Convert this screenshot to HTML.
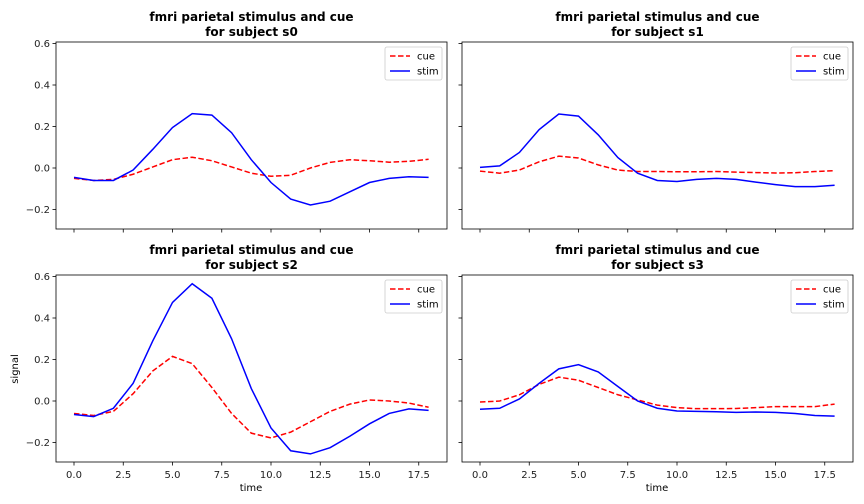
<!DOCTYPE html>
<html><head><meta charset="utf-8"><style>
body{margin:0;background:#fff}
svg{display:block;font-family:"DejaVu Sans","Liberation Sans",sans-serif}
</style></head><body>
<svg id="chart" width="864" height="504" xmlns="http://www.w3.org/2000/svg"></svg>
<script>
const times=[0,1,2,3,4,5,6,7,8,9,10,11,12,13,14,15,16,17,18];
const subjects=["s0","s1","s2","s3"];
const stimS0=[-0.045,-0.06,-0.06,-0.01,0.09,0.195,0.262,0.255,0.17,0.04,-0.07,-0.15,-0.178,-0.16,-0.115,-0.07,-0.05,-0.042,-0.045];
const cueS0=[-0.05,-0.06,-0.055,-0.03,0.005,0.04,0.052,0.035,0.005,-0.025,-0.04,-0.035,0.0,0.027,0.04,0.035,0.028,0.032,0.042];
const stimS1=[0.003,0.01,0.075,0.185,0.26,0.25,0.16,0.05,-0.025,-0.06,-0.065,-0.055,-0.05,-0.055,-0.068,-0.08,-0.09,-0.09,-0.083];
const cueS1=[-0.015,-0.025,-0.01,0.03,0.057,0.048,0.015,-0.01,-0.017,-0.017,-0.018,-0.018,-0.017,-0.02,-0.022,-0.024,-0.023,-0.017,-0.013];
const stimS2=[-0.065,-0.075,-0.035,0.085,0.29,0.475,0.565,0.495,0.30,0.06,-0.13,-0.24,-0.255,-0.225,-0.17,-0.11,-0.06,-0.038,-0.045];
const cueS2=[-0.06,-0.07,-0.05,0.035,0.145,0.215,0.18,0.065,-0.06,-0.155,-0.178,-0.15,-0.1,-0.05,-0.015,0.005,0.0,-0.01,-0.03];
const stimS3=[-0.04,-0.035,0.01,0.085,0.155,0.175,0.14,0.07,0.0,-0.035,-0.048,-0.05,-0.052,-0.055,-0.053,-0.055,-0.06,-0.07,-0.073];
const cueS3=[-0.005,0.0,0.03,0.08,0.115,0.1,0.065,0.03,0.005,-0.02,-0.032,-0.037,-0.037,-0.036,-0.032,-0.027,-0.027,-0.027,-0.015];
const xTicks=[0,2.5,5,7.5,10,12.5,15,17.5];
const xTickLabels=["0.0","2.5","5.0","7.5","10.0","12.5","15.0","17.5"];
const yTicks=[-0.2,0,0.2,0.4,0.6];
const yTickLabels=["\u22120.2","0.0","0.2","0.4","0.6"];
const stims=[stimS0,stimS1,stimS2,stimS3];
const cues=[cueS0,cueS1,cueS2,cueS3];

const NS="http://www.w3.org/2000/svg";
const svg=document.getElementById('chart');
function mk(tag,attrs,parent,text){const e=document.createElementNS(NS,tag);for(const k in attrs)e.setAttribute(k,attrs[k]);if(text!==undefined)e.textContent=text;(parent||svg).appendChild(e);return e;}
const panels=[{x:56,y:42},{x:462,y:42},{x:56,y:275},{x:462,y:275}];
const W=391,H=187;
panels.forEach((p,i)=>{
  const g=mk('g',{});
  
  
  const xs=t=>p.x+18+t*19.7;
  const ys=v=>p.y+126-v*207.5;
  mk('rect',{x:p.x,y:p.y,width:W,height:H,fill:'#fff'},g);
  const t1=mk('text',{x:p.x+W/2,y:p.y-21,'text-anchor':'middle','font-size':12,'font-weight':'bold'},g,'fmri parietal stimulus and cue');
  
  
  mk('text',{x:p.x+W/2,y:p.y-6,'text-anchor':'middle','font-size':12,'font-weight':'bold'},g,'for subject '+subjects[i]);
  xTicks.forEach((t,k)=>{
    const x=xs(t);
    mk('line',{x1:x,x2:x,y1:p.y+H,y2:p.y+H+3.5,stroke:'#000','stroke-width':0.8},g);
    if(i>=2){const l=mk('text',{x:x,y:p.y+H+16,'text-anchor':'middle','font-size':10,fill:'#222'},g,xTickLabels[k]);
      
      }
  });
  yTicks.forEach((v,k)=>{
    const y=ys(v);
    mk('line',{x1:p.x,x2:p.x-3.5,y1:y,y2:y,stroke:'#000','stroke-width':0.8},g);
    if(i%2==0){const l=mk('text',{x:p.x-6,y:y+3.5,'text-anchor':'end','font-size':10,fill:'#222'},g,yTickLabels[k]);
      
      }
  });
  const line=(arr,color,dash,name)=>{
    const pl=mk('polyline',{points:arr.map((v,j)=>xs(times[j])+','+ys(v)).join(' '),fill:'none',stroke:color,'stroke-width':1.5,'stroke-dasharray':dash},g);
    
    
  };
  line(cues[i],'#ff0000','5.5,2.5','cue-line');
  line(stims[i],'#0000ff','none','stim-line');
  mk('rect',{x:p.x,y:p.y,width:W,height:H,fill:'none',stroke:'#000','stroke-width':0.8},g);
  const lg=mk('g',{},g);
  
  
  const lx=p.x+W-62,ly=p.y+5;
  mk('rect',{x:lx,y:ly,width:57,height:33,rx:2,fill:'#fff',stroke:'#ccc','stroke-width':0.8},lg);
  mk('line',{x1:lx+5,x2:lx+25,y1:ly+9,y2:ly+9,stroke:'#ff0000','stroke-width':1.5,'stroke-dasharray':'5.5,2.5'},lg);
  mk('text',{x:lx+32,y:ly+12.5,'font-size':10},lg,'cue');
  mk('line',{x1:lx+5,x2:lx+25,y1:ly+24,y2:ly+24,stroke:'#0000ff','stroke-width':1.5},lg);
  mk('text',{x:lx+32,y:ly+27.5,'font-size':10},lg,'stim');
});
const xl1=mk('text',{x:251,y:491,'text-anchor':'middle','font-size':10},svg,'time');


const xl2=mk('text',{x:657,y:491,'text-anchor':'middle','font-size':10},svg,'time');


const yl=mk('text',{x:18,y:369,'text-anchor':'middle','font-size':10,transform:'rotate(-90 18 369)'},svg,'signal');


</script>
</body></html>
